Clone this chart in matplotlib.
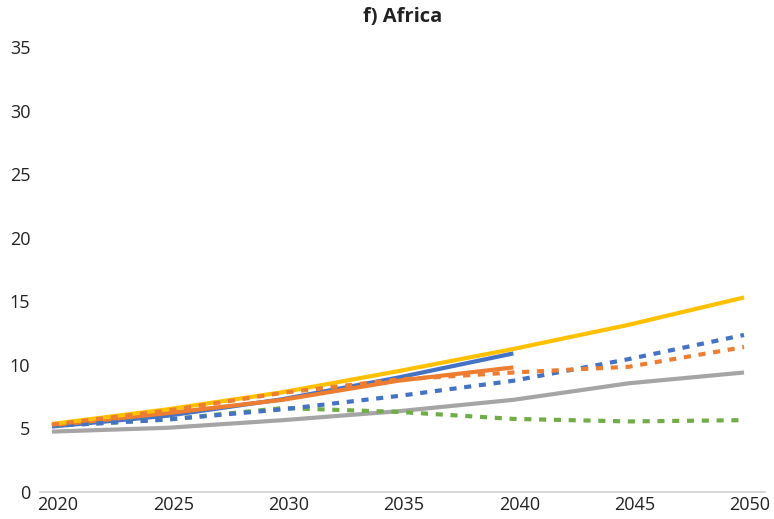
import matplotlib
matplotlib.use("Agg")
import matplotlib.pyplot as plt
import matplotlib.transforms as mtransforms

# Scenario series for Africa, 2020-2050
years = [2020, 2025, 2030, 2035, 2040, 2045, 2050]
years_short = [2020, 2025, 2030, 2035, 2040]

blue_solid = [5.15, 6.0, 7.3, 9.0, 10.9]
orange_solid = [5.25, 6.2, 7.25, 8.75, 9.8]
yellow_solid = [5.35, 6.5, 7.85, 9.5, 11.25, 13.15, 15.3]
gray_solid = [4.75, 5.05, 5.65, 6.35, 7.25, 8.55, 9.4]
blue_dotted = [5.2, 5.7, 6.5, 7.55, 8.75, 10.45, 12.35]
orange_dotted = [5.3, 6.4, 7.8, 8.85, 9.4, 9.85, 11.4]
green_dotted = [5.2, 5.7, 6.6, 6.3, 5.75, 5.55, 5.65]

y_ticks = [0, 5, 10, 15, 20, 25, 30, 35]
x_ticks = [2020, 2025, 2030, 2035, 2040, 2045, 2050]

BLUE = "#4472C4"
ORANGE = "#ED7D31"
GRAY = "#A5A5A5"
YELLOW = "#FFC000"
GREEN = "#70AD47"

plt.rcParams["font.family"] = ["Open Sans", "DejaVu Sans"]

fig = plt.figure(figsize=(7.74, 5.19), dpi=100)
ax = fig.add_axes([40 / 774, 27 / 519, 725 / 774, 445 / 519])

lw = 3.0
dot = (0, (1.7, 1.85))

ax.plot(years, gray_solid, color=GRAY, lw=lw, solid_capstyle="butt")
ax.plot(years_short, blue_solid, color=BLUE, lw=lw, solid_capstyle="butt")
ax.plot(years_short, orange_solid, color=ORANGE, lw=lw, solid_capstyle="butt")
ax.plot(years, yellow_solid, color=YELLOW, lw=lw, solid_capstyle="butt")
ax.plot(years, green_dotted, color=GREEN, lw=lw, ls=dot)
ax.plot(years, blue_dotted, color=BLUE, lw=lw, ls=dot)
ax.plot(years, orange_dotted, color=ORANGE, lw=lw, ls=dot)

ax.set_xlim(2019.48, 2050.91)
ax.set_ylim(0, 35)

ax.set_yticks(y_ticks)
ax.set_yticklabels([str(v) for v in y_ticks])
ax.set_xticks(x_ticks)
ax.set_xticklabels([str(v) for v in x_ticks])

ax.tick_params(axis="both", length=0, labelsize=13, colors="#222222")
ax.tick_params(axis="y", pad=7)
ax.tick_params(axis="x", pad=3)

# shift the year labels slightly to the right
offset = mtransforms.ScaledTranslation(6 / 100, 0, fig.dpi_scale_trans)
for lab in ax.get_xticklabels():
    lab.set_transform(lab.get_transform() + offset)

for side in ["top", "right", "left"]:
    ax.spines[side].set_visible(False)
ax.spines["bottom"].set_color("#D0D0D0")
ax.spines["bottom"].set_linewidth(1.2)

fig.text(403 / 774, 1 - 17 / 519, "f) Africa", ha="center", va="center",
         fontsize=14.5, fontweight="bold", color="#222222")

fig.savefig("out.png", dpi=100, facecolor="white")
